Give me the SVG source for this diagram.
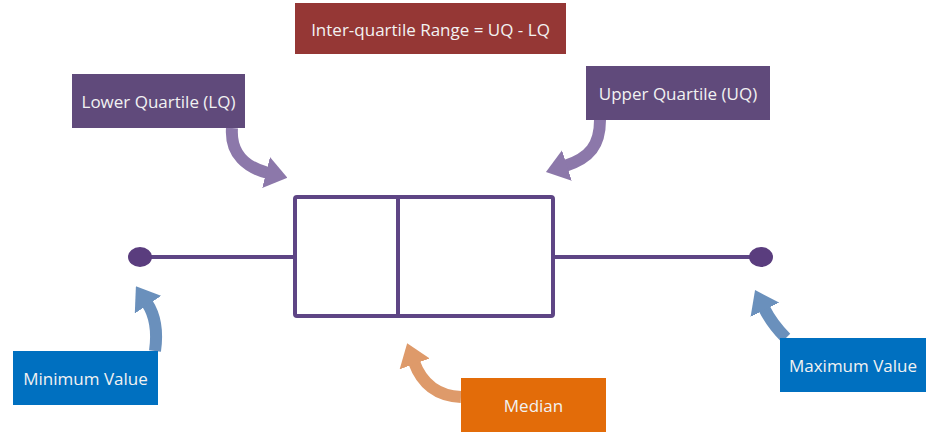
<svg xmlns="http://www.w3.org/2000/svg" width="933" height="432" viewBox="0 0 933 432">
<style>
.lbl{font-family:"Open Sans","Liberation Sans",sans-serif;font-size:17px;fill:#f2f2f2;text-anchor:middle;dominant-baseline:central}
.plot{fill:none;stroke:#5e4585;stroke-width:4;stroke-linejoin:round}
.arr{fill:none;stroke-width:12}
</style>
<defs>
<marker id="hp" markerUnits="userSpaceOnUse" viewBox="0 0 22 32" markerWidth="22" markerHeight="32" refX="2" refY="16" orient="auto"><path d="M0,0 L22,16 L0,32 z" fill="#8c78aa"/></marker>
<marker id="hb" markerUnits="userSpaceOnUse" viewBox="0 0 22 32" markerWidth="22" markerHeight="32" refX="2" refY="16" orient="auto"><path d="M0,0 L22,16 L0,32 z" fill="#6a90bc"/></marker>
<marker id="ho" markerUnits="userSpaceOnUse" viewBox="0 0 22 32" markerWidth="22" markerHeight="32" refX="2" refY="16" orient="auto"><path d="M0,0 L22,16 L0,32 z" fill="#de9a6a"/></marker>
</defs>
<rect width="933" height="432" fill="#ffffff"/>
<g id="boxplot">
<line class="plot" x1="140" y1="257" x2="295" y2="257"/>
<line class="plot" x1="553" y1="257" x2="760" y2="257"/>
<rect class="plot" x="295" y="197" width="258" height="119" rx="2"/>
<line class="plot" x1="398" y1="197" x2="398" y2="316"/>
<ellipse cx="140" cy="257" rx="12" ry="10" fill="#5a3d7e"/>
<ellipse cx="761" cy="257" rx="12" ry="10" fill="#5a3d7e"/>
</g>
<g id="connectors">
<path class="arr" stroke="#8c78aa" marker-end="url(#hp)" d="M232,128 C230,155 248,168 268,173"/>
<path class="arr" stroke="#8c78aa" marker-end="url(#hp)" d="M600,120 C600,145 590,158 565,166"/>
<path class="arr" stroke="#6a90bc" marker-end="url(#hb)" d="M155,351 C158,330 155,315 147,303"/>
<path class="arr" stroke="#6a90bc" marker-end="url(#hb)" d="M786,338 C778,330 770,320 764,308"/>
<path class="arr" stroke="#de9a6a" marker-end="url(#ho)" d="M461,397 C438,396 422,384 414,362"/>
</g>
<g id="iqr">
<rect x="295" y="3" width="271" height="51" fill="#953735"/>
<text class="lbl" x="430.5" y="29">Inter-quartile Range = UQ - LQ</text>
</g>
<g id="lq">
<rect x="72" y="74" width="173" height="54" fill="#604a7b"/>
<text class="lbl" x="158.5" y="101">Lower Quartile (LQ)</text>
</g>
<g id="uq">
<rect x="586" y="66" width="184" height="54" fill="#604a7b"/>
<text class="lbl" x="678" y="93">Upper Quartile (UQ)</text>
</g>
<g id="min">
<rect x="13" y="351" width="145" height="54" fill="#0070c0"/>
<text class="lbl" x="85.5" y="378">Minimum Value</text>
</g>
<g id="max">
<rect x="780" y="338" width="146" height="54" fill="#0070c0"/>
<text class="lbl" x="853" y="365">Maximum Value</text>
</g>
<g id="median">
<rect x="461" y="378" width="145" height="54" fill="#e36c09"/>
<text class="lbl" x="533.5" y="405">Median</text>
</g>
</svg>
